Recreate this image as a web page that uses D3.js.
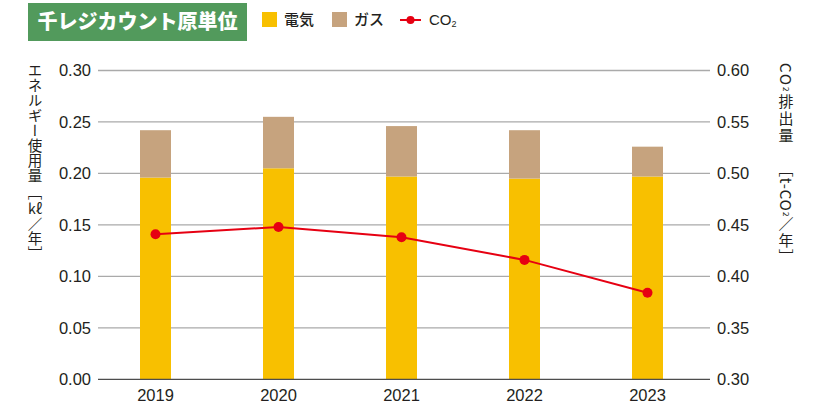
<!DOCTYPE html>
<html>
<head>
<meta charset="utf-8">
<script src="https://cdn.jsdelivr.net/npm/d3@7"></script>
<style>
  body { margin: 0; background: #fff; }
  text { font-family: "Liberation Sans", Arial, "Noto Sans CJK JP", sans-serif; fill: #231f20; }
  .jp { font-family: "Noto Sans CJK JP", sans-serif; }
</style>
</head>
<body>
<div id="chart"></div>
<script>
// chart data
let years = ["2019", "2020", "2021", "2022", "2023"];
let electricity = [0.196, 0.205, 0.197, 0.195, 0.197];
let gas = [0.046, 0.050, 0.049, 0.047, 0.029];
let co2 = [0.441, 0.448, 0.438, 0.416, 0.384];
let leftTicks = [0.00, 0.05, 0.10, 0.15, 0.20, 0.25, 0.30];
let rightTicks = [0.30, 0.35, 0.40, 0.45, 0.50, 0.55, 0.60];

let width = 828, height = 409;
let plotLeft = 98, plotRight = 710, plotTop = 70.5, plotBottom = 379.3;

let svg = d3.select("#chart").append("svg")
  .attr("width", width).attr("height", height);

let xScale = d3.scaleBand().domain(years).range([94, 709]);
let yLeft = d3.scaleLinear().domain([0, 0.30]).range([plotBottom, plotTop]);
let yRight = d3.scaleLinear().domain([0.30, 0.60]).range([plotBottom, plotTop]);
let barW = 31;

// gridlines
svg.append("g").selectAll("line")
  .data(leftTicks.slice(1))
  .enter().append("line")
  .attr("x1", plotLeft).attr("x2", plotRight)
  .attr("y1", d => yLeft(d)).attr("y2", d => yLeft(d))
  .style("stroke", "#aaaaaa").style("stroke-width", 1.3);

// left tick labels
svg.append("g").selectAll("text")
  .data(leftTicks)
  .enter().append("text")
  .attr("x", 91).attr("y", d => yLeft(d)).attr("dy", "0.36em")
  .attr("text-anchor", "end").style("font-size", "16.5px")
  .text(d => d.toFixed(2));

// right tick labels
svg.append("g").selectAll("text")
  .data(rightTicks)
  .enter().append("text")
  .attr("x", 717).attr("y", d => yRight(d)).attr("dy", "0.36em")
  .style("font-size", "16.5px")
  .text(d => d.toFixed(2));

// stacked bars
let bars = svg.append("g");
bars.selectAll(".elec")
  .data(years)
  .enter().append("rect")
  .attr("class", "elec")
  .attr("x", d => xScale(d) + xScale.bandwidth() / 2 - barW / 2)
  .attr("width", barW)
  .attr("y", (d, i) => yLeft(electricity[i]))
  .attr("height", (d, i) => yLeft(0) - yLeft(electricity[i]))
  .style("fill", "#f8c000");
bars.selectAll(".gas")
  .data(years)
  .enter().append("rect")
  .attr("class", "gas")
  .attr("x", d => xScale(d) + xScale.bandwidth() / 2 - barW / 2)
  .attr("width", barW)
  .attr("y", (d, i) => yLeft(electricity[i] + gas[i]))
  .attr("height", (d, i) => yLeft(electricity[i]) - yLeft(electricity[i] + gas[i]))
  .style("fill", "#c6a37e");

// baseline
svg.append("line")
  .attr("x1", plotLeft).attr("x2", plotRight)
  .attr("y1", plotBottom).attr("y2", plotBottom)
  .style("stroke", "#4d4d4d").style("stroke-width", 1.3);

// year labels
svg.append("g").selectAll("text")
  .data(years)
  .enter().append("text")
  .attr("x", d => xScale(d) + xScale.bandwidth() / 2)
  .attr("y", 401)
  .attr("text-anchor", "middle").style("font-size", "16.5px")
  .text(d => d);

// CO2 line
let line = d3.line()
  .x((d, i) => xScale(years[i]) + xScale.bandwidth() / 2)
  .y(d => yRight(d));
svg.append("path")
  .attr("d", line(co2))
  .style("fill", "none").style("stroke", "#e60012").style("stroke-width", 2);
svg.append("g").selectAll("circle")
  .data(co2)
  .enter().append("circle")
  .attr("cx", (d, i) => xScale(years[i]) + xScale.bandwidth() / 2)
  .attr("cy", d => yRight(d))
  .attr("r", 5)
  .style("fill", "#e60012");

// title box
svg.append("rect")
  .attr("x", 28).attr("y", 3).attr("width", 219).attr("height", 38)
  .style("fill", "#529a5c");
svg.append("text")
  .attr("class", "jp")
  .attr("x", 137.5).attr("y", 22).attr("dy", "0.36em")
  .attr("text-anchor", "middle")
  .style("font-size", "20px").style("font-weight", "900").style("fill", "#fff")
  .text("千レジカウント原単位");

// legend
let legend = svg.append("g");
legend.append("rect").attr("x", 262).attr("y", 12).attr("width", 15).attr("height", 15).style("fill", "#f8c000");
legend.append("text").attr("class", "jp").attr("x", 284).attr("y", 20).attr("dy", "0.36em")
  .style("font-size", "15px").style("font-weight", "500").text("電気");
legend.append("rect").attr("x", 332).attr("y", 12).attr("width", 15).attr("height", 15).style("fill", "#c6a37e");
legend.append("text").attr("class", "jp").attr("x", 354).attr("y", 20).attr("dy", "0.36em")
  .style("font-size", "15px").style("font-weight", "500").text("ガス");
legend.append("line").attr("x1", 400).attr("x2", 421).attr("y1", 20).attr("y2", 20)
  .style("stroke", "#e60012").style("stroke-width", 2);
legend.append("circle").attr("cx", 410.5).attr("cy", 20).attr("r", 4).style("fill", "#e60012");
let co2Leg = legend.append("text").attr("x", 429).attr("y", 20).attr("dy", "0.36em")
  .style("font-size", "15px");
co2Leg.append("tspan").text("CO");
co2Leg.append("tspan").attr("dy", "0.15em").style("font-size", "9px").text("2");

// vertical axis titles
function vertical(x, y, size, spacing) {
  return svg.append("text")
    .attr("class", "jp")
    .attr("x", x).attr("y", y)
    .style("writing-mode", "vertical-rl")
    .style("font-size", size + "px")
    .style("letter-spacing", spacing + "px");
}
vertical(35, 63, 14.5, 0.5).text("エネルギー使用量");
vertical(35, 185, 14.5, 0).text("［");
svg.append("text").attr("class", "jp")
  .attr("x", 35).attr("y", 214).attr("text-anchor", "middle")
  .style("font-size", "14px").text("kℓ");
vertical(35, 217, 14.5, 0).text("／年］");

let r1 = vertical(786, 63, 15, 2);
r1.append("tspan").text("CO");
r1.append("tspan").style("font-size", "8px").text("2");
r1.append("tspan").text("排出量");
let r2 = vertical(786, 162, 15, 0.8);
r2.append("tspan").text("［t-CO");
r2.append("tspan").style("font-size", "8px").text("2");
r2.append("tspan").text("／年］");
</script>
</body>
</html>
